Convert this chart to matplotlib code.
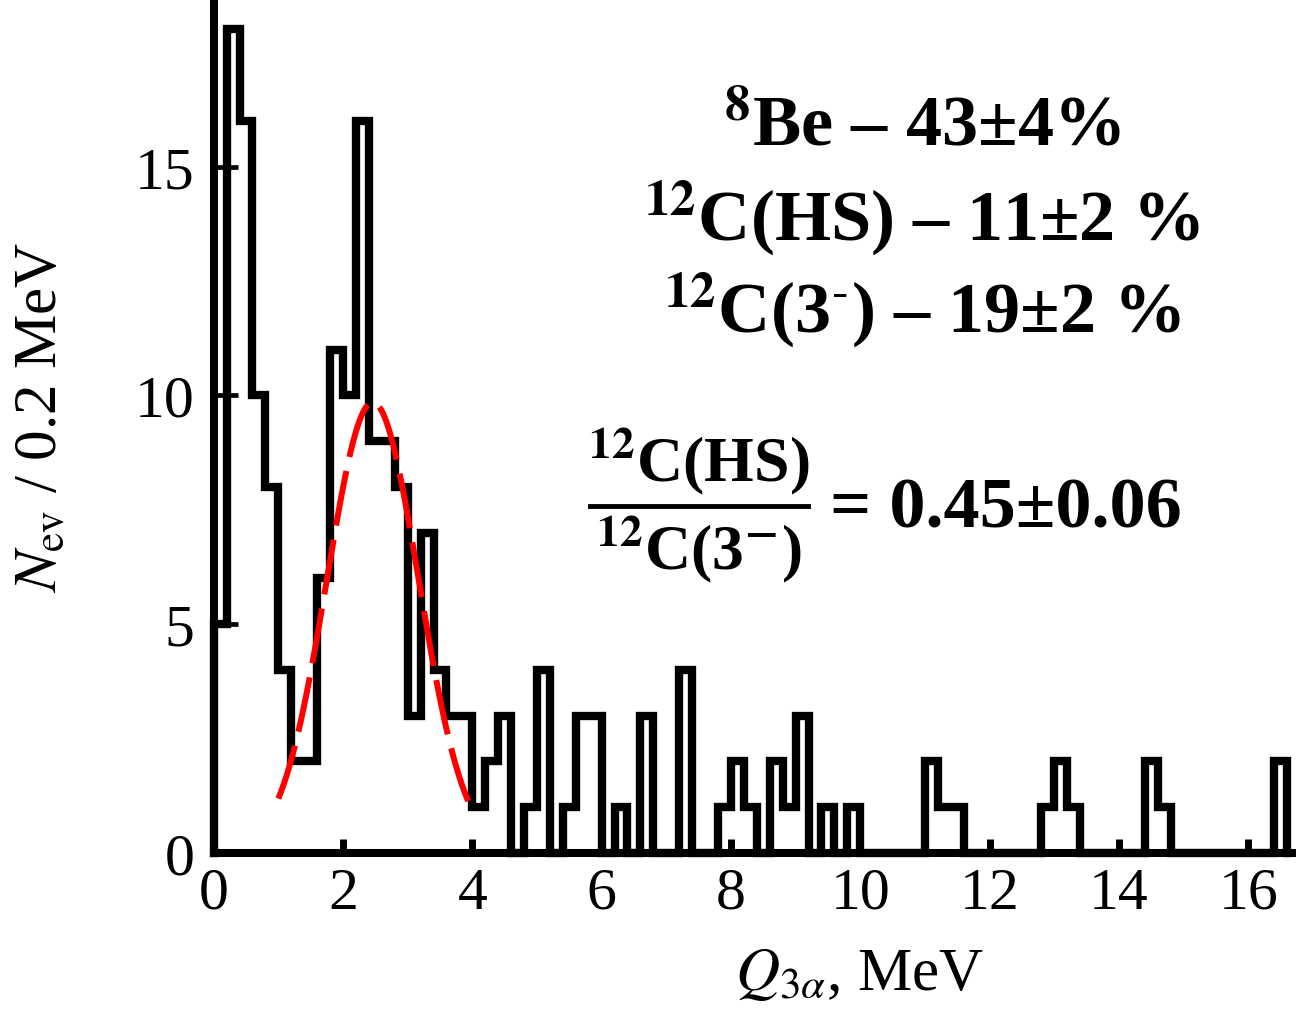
import numpy as np
import matplotlib
matplotlib.use('Agg')
import matplotlib.pyplot as plt
from matplotlib.lines import Line2D

plt.rcParams['font.family'] = ['Liberation Serif', 'DejaVu Serif']
plt.rcParams['mathtext.fontset'] = 'stix'

# histogram of Q_3alpha, bins of 0.2 MeV starting at 0
bin_width = 0.2
counts = [5, 18, 16, 10, 8, 4, 2, 2, 6, 11,
          10, 16, 9, 9, 8, 3, 7, 4, 3, 3,
          1, 2, 3, 0, 1, 4, 0, 1, 3, 3,
          0, 1, 0, 3, 0, 0, 4, 0, 0, 1,
          2, 1, 0, 2, 1, 3, 0, 1, 0, 1,
          0, 0, 0, 0, 0, 2, 1, 1, 0, 0,
          0, 0, 0, 0, 1, 2, 1, 0, 0, 0,
          0, 0, 2, 1, 0, 0, 0, 0, 0, 0,
          0, 0, 2]

# gaussian fit of the 12C(3-) peak
fit_amp = 9.85
fit_mean = 2.46
fit_sigma = 0.71
fit_range = (1.0, 4.0)

x_ticks = [0, 2, 4, 6, 8, 10, 12, 14, 16]
y_ticks = [0, 5, 10, 15]

lines_top = [r'$^{\mathbf{8}}$Be – 43±4%',
             r'$^{\mathbf{12}}$C(HS) – 11±2 %',
             '$^{\\mathbf{12}}$C(3$^{\u2010}$) – 19±2 %']
frac_num = r'$^{\mathbf{12}}$C(HS)'
frac_den = r'$^{\mathbf{12}}$C(3$^{\mathbf{-}}$)'
frac_val = '= 0.45±0.06'

W, H = 1296, 1020
fig = plt.figure(figsize=(W / 100, H / 100), dpi=100)
ax = fig.add_axes([213.7 / W, (H - 854) / H, 1082.3 / W, 852 / H])

edges = np.arange(len(counts) + 1) * bin_width
st = ax.stairs(counts, edges, baseline=0, color='black', linewidth=6.0,
               clip_on=False, zorder=3)
st.set_joinstyle('miter')
st.set_capstyle('projecting')

xf = np.linspace(fit_range[0], fit_range[1], 300)
yf = fit_amp * np.exp(-(xf - fit_mean) ** 2 / (2 * fit_sigma ** 2))
ax.plot(xf, yf, color='#ff0000', linewidth=4.3, dashes=(9.3, 2.4), zorder=4)

ax.set_xlim(0, 16.74)
ax.set_ylim(0, 18.62)
ax.set_xticks(x_ticks)
ax.set_yticks(y_ticks)
for side in ['top', 'right']:
    ax.spines[side].set_visible(False)
for side in ['left', 'bottom']:
    ax.spines[side].set_linewidth(5.8)
ax.tick_params(axis='x', direction='in', length=10, width=5, pad=10,
               labelsize=43)
ax.tick_params(axis='y', direction='in', length=17, width=3.4, pad=14,
               labelsize=43)

ax.set_xlabel(r'$Q_{3\alpha}$, MeV', fontsize=44)
ax.xaxis.set_label_coords(0.597, -0.142)
ax.xaxis.label.set_va('center')
ax.set_ylabel(r'$N_{\rm ev}$ / 0.2 MeV', fontsize=44)
ax.yaxis.set_label_coords(-0.1586, 0.512)
ax.yaxis.label.set_va('center')


def px(x, y):
    return x / W, 1 - y / H


for txt, yy in zip(lines_top, [128, 218, 310]):
    fig.text(*px(922, yy), txt, fontsize=52, fontweight='bold',
             ha='center', va='center')

fig.text(*px(699, 462), frac_num, fontsize=46, fontweight='bold',
         ha='center', va='center')
fig.text(*px(699, 550), frac_den, fontsize=46, fontweight='bold',
         ha='center', va='center')
fig.add_artist(Line2D([590 / W, 808 / W], [1 - 507 / H, 1 - 507 / H],
                      color='black', linewidth=3.5))
fig.text(*px(830, 510), frac_val, fontsize=52, fontweight='bold',
         ha='left', va='center')

fig.savefig('out.png', dpi=100)
